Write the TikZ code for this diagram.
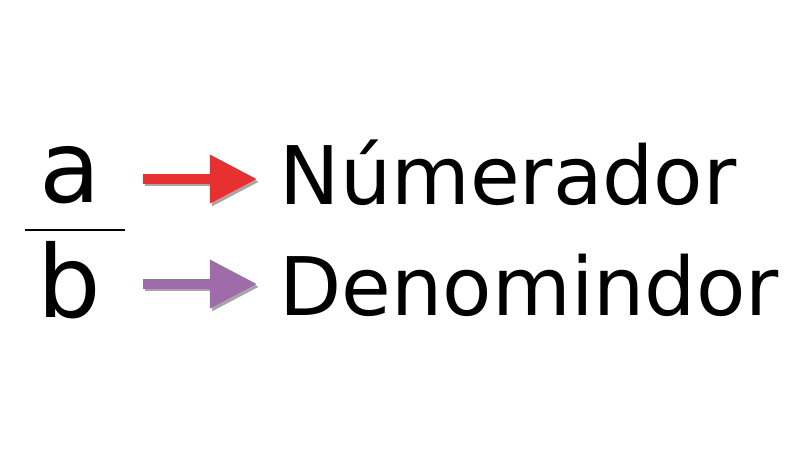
\documentclass[tikz,border=0pt]{standalone}
\usepackage{fontspec}
\setmainfont{DejaVu Sans}
\usetikzlibrary{arrows.meta}
\definecolor{numred}{RGB}{232,48,48}
\definecolor{denpurple}{RGB}{158,108,168}
\begin{document}
\begin{tikzpicture}[
    x=1cm, y=1cm,
    frac/.style={inner sep=0pt, anchor=base, font=\fontsize{28.5}{32}\selectfont},
    word/.style={inner sep=0pt, anchor=base west, font=\fontsize{23}{28}\selectfont},
    arrow/.style={line width=2.6pt, -{Triangle[length=13.4pt,width=13.2pt]}},
    shade/.style={arrow, draw=black, opacity=0.35, transform canvas={xshift=0.6pt, yshift=-0.8pt}}
]
    \useasboundingbox (0,0) rectangle (8,4.58);

    % Fraction
    \node[frac] (a) at (0.70,2.56) {a};
    \node[frac] (b) at (0.69,1.41) {b};
    \coordinate (barL) at (0.25,2.28);
    \coordinate (barR) at (1.25,2.28);
    \draw[line width=0.8pt] (barL) -- (barR);

    % Words
    \node[word] (num) at (2.79,2.54) {Númerador};
    \node[word] (den) at (2.79,1.43) {Denomindor};

    % Arrows
    \coordinate (r0) at (1.43,2.79);
    \coordinate (r1) at (2.57,2.79);
    \coordinate (p0) at (1.43,1.74);
    \coordinate (p1) at (2.57,1.74);
    \draw[shade] (r0) -- (r1);
    \draw[shade] (p0) -- (p1);
    \draw[arrow, numred] (r0) -- (r1);
    \draw[arrow, denpurple] (p0) -- (p1);
\end{tikzpicture}
\end{document}
